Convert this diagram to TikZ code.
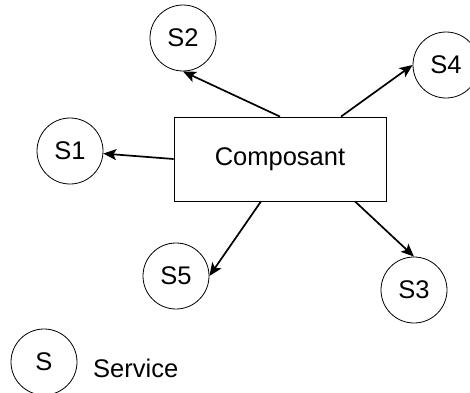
\documentclass[tikz,border=0pt]{standalone}
\usepackage{fontspec}
\setmainfont{Liberation Sans}
\usetikzlibrary{positioning, arrows.meta, shapes}
\tikzstyle{serviceCircle} = [
    circle,
    draw,
    line width=0.8pt,
    minimum size=66pt,
    inner sep=0pt
    ]
\tikzstyle{composantRectangle} = [
    rectangle,
    draw,
    line width=0.8pt,
    minimum width=212pt,
    minimum height=84pt
    ]
\tikzstyle{usesArrow} = [
    line width=1.7pt,
    -{Stealth[length=13pt,width=11pt,inset=3pt]}
    ]

\begin{document}
\begin{tikzpicture}[x=1pt, y=1pt, font=\fontsize{25.5}{30}\selectfont]
      \useasboundingbox (0,0) rectangle (470,392);
      \node[composantRectangle] at (280,233) (composant) {Composant};
      \node[serviceCircle] at (70,241) (s1) {S1};
      \node[serviceCircle] at (183,354) (s2) {S2};
      \node[serviceCircle] at (414,102) (s3) {S3};
      \node[serviceCircle] at (446,327) (s4) {S4};
      \node[serviceCircle] at (176,116) (s5) {S5};
      \draw[usesArrow] (composant.west) -- (s1);
      \draw[usesArrow] (composant.north) -- (s2.south);
      \draw[usesArrow] ([xshift=61pt]composant.north) -- (s4.west);
      \draw[usesArrow] ([xshift=-19pt]composant.south) -- (s5.east);
      \draw[usesArrow] ([xshift=75pt]composant.south) -- (s3.north);
      % legende
      \node[serviceCircle] at (44,30) (legende) {S};
      \node[anchor=west, inner sep=0pt] at (93,24) (service) {Service};
\end{tikzpicture}
\end{document}
